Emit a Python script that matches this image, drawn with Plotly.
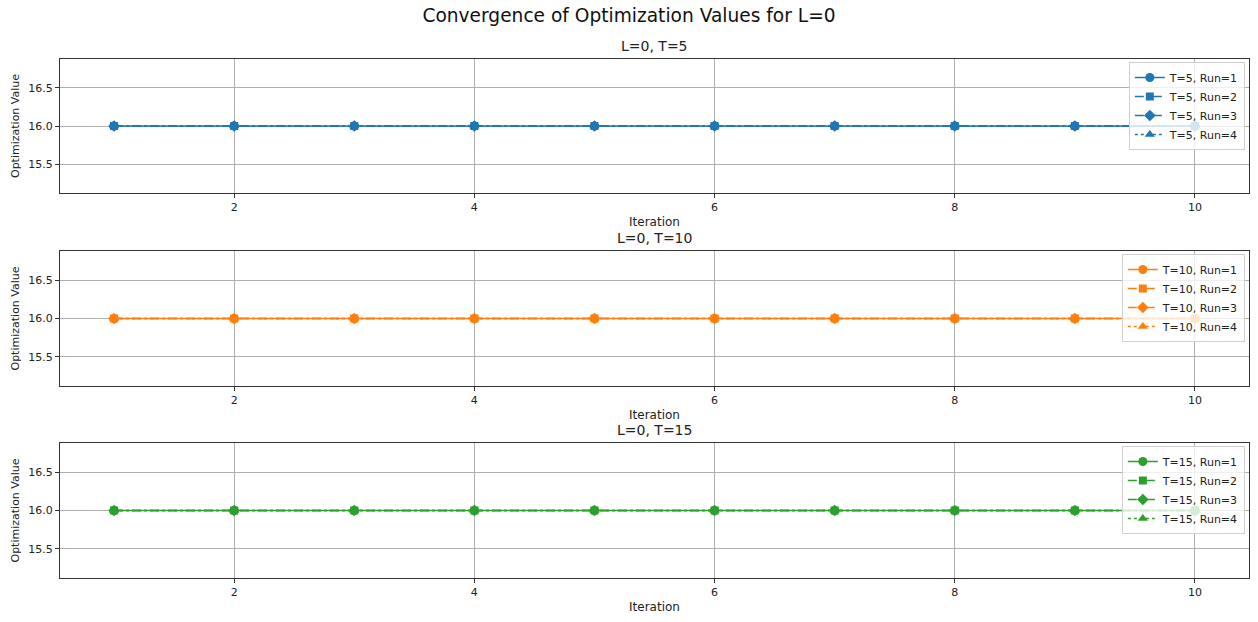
import plotly.graph_objects as go

iterations = [1, 2, 3, 4, 5, 6, 7, 8, 9, 10]
temps = [5, 10, 15]
runs = [1, 2, 3, 4]
values = {
    (5, 1): [16, 16, 16, 16, 16, 16, 16, 16, 16, 16],
    (5, 2): [16, 16, 16, 16, 16, 16, 16, 16, 16, 16],
    (5, 3): [16, 16, 16, 16, 16, 16, 16, 16, 16, 16],
    (5, 4): [16, 16, 16, 16, 16, 16, 16, 16, 16, 16],
    (10, 1): [16, 16, 16, 16, 16, 16, 16, 16, 16, 16],
    (10, 2): [16, 16, 16, 16, 16, 16, 16, 16, 16, 16],
    (10, 3): [16, 16, 16, 16, 16, 16, 16, 16, 16, 16],
    (10, 4): [16, 16, 16, 16, 16, 16, 16, 16, 16, 16],
    (15, 1): [16, 16, 16, 16, 16, 16, 16, 16, 16, 16],
    (15, 2): [16, 16, 16, 16, 16, 16, 16, 16, 16, 16],
    (15, 3): [16, 16, 16, 16, 16, 16, 16, 16, 16, 16],
    (15, 4): [16, 16, 16, 16, 16, 16, 16, 16, 16, 16],
}
colors = ["#1f77b4", "#ff7f0e", "#2ca02c"]
symbols = ["circle", "square", "diamond", "triangle-up"]
dashes = ["solid", "dash", "dashdot", "dot"]

W, H = 1258, 622
ml, mr, mt, mb = 60, 9, 59, 44
ph = H - mt - mb
panels_px = [(59, 193), (251, 386), (443, 578)]

def fy(y):
    return (H - mb - y) / ph

fig = go.Figure()
font = dict(family="DejaVu Sans", size=12, color="#222")
layout = dict(
    width=W, height=H, margin=dict(l=ml, r=mr, t=mt, b=mb, autoexpand=False),
    paper_bgcolor="white", plot_bgcolor="white", font=font, showlegend=True,
    annotations=[],
)

for i, T in enumerate(temps):
    xa = "x" if i == 0 else f"x{i+1}"
    ya = "y" if i == 0 else f"y{i+1}"
    lg = "legend" if i == 0 else f"legend{i+1}"
    for j, r in enumerate(runs):
        fig.add_trace(go.Scatter(
            x=iterations, y=values[(T, r)], mode="lines+markers",
            name=f"T={T}, Run={r}", xaxis=xa, yaxis=ya, legend=lg,
            line=dict(color=colors[i], width=1.6, dash=dashes[j]),
            marker=dict(symbol=symbols[j], size=9 if j != 1 else 8, color=colors[i]),
        ))
    top, bot = panels_px[i]
    dom = [fy(bot), fy(top)]
    axkey_x = "xaxis" if i == 0 else f"xaxis{i+1}"
    axkey_y = "yaxis" if i == 0 else f"yaxis{i+1}"
    layout[axkey_x] = dict(
        domain=[0, 1], anchor=ya, range=[0.55, 10.45], tickvals=[2, 4, 6, 8, 10],
        showgrid=True, gridcolor="#b0b0b0", gridwidth=1, zeroline=False,
        showline=True, linecolor="#333", linewidth=1, mirror=True,
        ticks="outside", ticklen=4, tickcolor="#333", automargin=False,
        title=dict(text="Iteration", standoff=4, font=dict(size=12)),
        tickfont=dict(size=11),
    )
    layout[axkey_y] = dict(
        domain=dom, anchor=xa, range=[15.12, 16.88], tickvals=[15.5, 16.0, 16.5],
        ticktext=["15.5", "16.0", "16.5"],
        showgrid=True, gridcolor="#b0b0b0", gridwidth=1, zeroline=False,
        showline=True, linecolor="#333", linewidth=1, mirror=True,
        ticks="outside", ticklen=4, tickcolor="#333", automargin=False,
        title=dict(text="Optimization Value", standoff=6, font=dict(size=11)),
        tickfont=dict(size=11),
    )
    layout[lg] = dict(
        x=0.9965, y=dom[1] - 3 / ph, xanchor="right", yanchor="top",
        bgcolor="rgba(255,255,255,0.8)", bordercolor="#d0d0d0", borderwidth=1,
        font=dict(size=11), tracegroupgap=0, itemwidth=30,
    )
    layout["annotations"].append(dict(
        text=f"L=0, T={T}", x=0.5, y=dom[1], xref="paper", yref="paper",
        xanchor="center", yanchor="bottom", yshift=3, showarrow=False,
        font=dict(size=14, color="#222"),
    ))

layout["title"] = dict(
    text="Convergence of Optimization Values for L=0", x=0.5, xanchor="center",
    y=1 - 15 / H, yanchor="middle", font=dict(size=18.6, color="#111"),
)
fig.update_layout(**layout)
fig.write_html(
    "out.html",
    config={"displayModeBar": False},
    post_script="document.body.style.margin='0';document.body.style.overflow='hidden';",
)
